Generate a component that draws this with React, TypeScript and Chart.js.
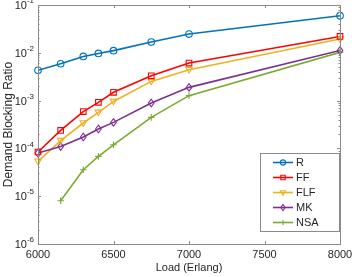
import React, { useEffect, useRef } from "react";
import { Chart, registerables } from "chart.js";

Chart.register(...registerables);

const loads = [6000, 6150, 6300, 6400, 6500, 6750, 7000, 8000];
const nsaLoads = [6150, 6300, 6400, 6500, 6750, 7000, 8000];
const seriesR = [4.3e-3, 5.9e-3, 8.4e-3, 9.7e-3, 1.11e-2, 1.68e-2, 2.47e-2, 5.97e-2];
const seriesFF = [8.4e-5, 2.38e-4, 5.9e-4, 9.2e-4, 1.49e-3, 3.3e-3, 6.1e-3, 2.2e-2];
const seriesFLF = [5.35e-5, 1.45e-4, 3.4e-4, 5.66e-4, 9.6e-4, 2.52e-3, 4.43e-3, 1.94e-2];
const seriesMK = [8.0e-5, 1.1e-4, 1.73e-4, 2.55e-4, 3.5e-4, 8.9e-4, 1.89e-3, 1.12e-2];
const seriesNSA = [8.05e-6, 3.58e-5, 6.8e-5, 1.19e-4, 4.45e-4, 1.27e-3, 1.02e-2];
const xTicks = [6000, 6500, 7000, 7500, 8000];
const yExponents = [-6, -5, -4, -3, -2, -1];
const xTitle = "Load (Erlang)";
const yTitle = "Demand Blocking Ratio";

const FONT = "'Liberation Sans', Arial, Helvetica, sans-serif";
const TEXT = "#262626";
const AXIS = "#8a8a8a";

const toXY = (xs: number[], ys: number[]) => xs.map((x, i) => ({ x, y: ys[i] }));

const drawMarker = (ctx: CanvasRenderingContext2D, style: string, x: number, y: number, r: number, color: string) => {
  ctx.save();
  ctx.strokeStyle = color;
  ctx.lineWidth = 1.1;
  ctx.beginPath();
  if (style === "circle") {
    ctx.arc(x, y, r, 0, Math.PI * 2);
  } else if (style === "rect") {
    ctx.rect(x - r * 0.85, y - r * 0.85, r * 1.7, r * 1.7);
  } else if (style === "triangleDown") {
    ctx.moveTo(x - r, y - r * 0.7);
    ctx.lineTo(x + r, y - r * 0.7);
    ctx.lineTo(x, y + r);
    ctx.closePath();
  } else if (style === "diamond") {
    ctx.moveTo(x, y - r * 1.15);
    ctx.lineTo(x + r * 0.85, y);
    ctx.lineTo(x, y + r * 1.15);
    ctx.lineTo(x - r * 0.85, y);
    ctx.closePath();
  } else {
    ctx.moveTo(x - r, y);
    ctx.lineTo(x + r, y);
    ctx.moveTo(x, y - r);
    ctx.lineTo(x, y + r);
  }
  ctx.stroke();
  ctx.restore();
};

const frame = {
  id: "frame",
  afterDraw(chart: any) {
    const ctx: CanvasRenderingContext2D = chart.ctx;
    const { left, right, top, bottom } = chart.chartArea;
    const xs = chart.scales.x;
    const ys = chart.scales.y;
    ctx.save();
    ctx.strokeStyle = AXIS;
    ctx.lineWidth = 1;
    ctx.strokeRect(left + 0.5, top + 0.5, right - left, bottom - top);
    ctx.beginPath();
    for (const t of xTicks) {
      const px = Math.round(xs.getPixelForValue(t)) + 0.5;
      ctx.moveTo(px, bottom);
      ctx.lineTo(px, bottom - 3);
      ctx.moveTo(px, top);
      ctx.lineTo(px, top + 3);
    }
    for (const e of yExponents) {
      const py = Math.round(ys.getPixelForValue(Math.pow(10, e))) + 0.5;
      ctx.moveTo(left, py);
      ctx.lineTo(left + 3, py);
      ctx.moveTo(right, py);
      ctx.lineTo(right - 3, py);
      if (e < -1) {
        for (let m = 2; m <= 9; m++) {
          const my = Math.round(ys.getPixelForValue(m * Math.pow(10, e))) + 0.5;
          ctx.moveTo(left, my);
          ctx.lineTo(left + 1.5, my);
          ctx.moveTo(right, my);
          ctx.lineTo(right - 1.5, my);
        }
      }
    }
    ctx.stroke();

    // tick labels
    ctx.fillStyle = TEXT;
    ctx.font = `11px ${FONT}`;
    ctx.textAlign = "center";
    ctx.textBaseline = "middle";
    for (const t of xTicks) {
      ctx.fillText(String(t), xs.getPixelForValue(t), bottom + 10.5);
    }
    for (const e of yExponents) {
      const py = ys.getPixelForValue(Math.pow(10, e));
      const expStr = "-" + String(-e);
      ctx.font = `8px ${FONT}`;
      const ew = ctx.measureText(expStr).width;
      const endX = left - 4;
      ctx.textAlign = "left";
      ctx.fillText(expStr, endX - ew, py - 4);
      ctx.font = `11px ${FONT}`;
      ctx.textAlign = "right";
      ctx.fillText("10", endX - ew, py + 1);
    }

    // axis titles
    ctx.font = `11px ${FONT}`;
    ctx.textAlign = "center";
    ctx.fillText(xTitle, (left + right) / 2, 268);
    ctx.save();
    ctx.translate(9, (top + bottom) / 2);
    ctx.rotate(-Math.PI / 2);
    ctx.font = `12px ${FONT}`;
    ctx.fillText(yTitle, 0, 0);
    ctx.restore();

    // legend
    const bx = 260, by = 153, bw = 79, bh = 78;
    ctx.fillStyle = "#ffffff";
    ctx.fillRect(bx, by, bw, bh);
    ctx.strokeStyle = AXIS;
    ctx.strokeRect(bx + 0.5, by + 0.5, bw, bh);
    chart.data.datasets.forEach((ds: any, i: number) => {
      const ly = by + 9.5 + i * 15;
      ctx.strokeStyle = ds.borderColor;
      ctx.lineWidth = 1.6;
      ctx.beginPath();
      ctx.moveTo(273, ly);
      ctx.lineTo(293, ly);
      ctx.stroke();
      drawMarker(ctx, ds.markerKind, 283, ly, 2.6, ds.borderColor);
      ctx.fillStyle = TEXT;
      ctx.font = `11px ${FONT}`;
      ctx.textAlign = "left";
      ctx.textBaseline = "middle";
      ctx.fillText(ds.label, 296, ly + 0.5);
    });
    ctx.restore();
  },
};

const markerPlugin = {
  id: "markers",
  afterDatasetsDraw(chart: any) {
    const ctx: CanvasRenderingContext2D = chart.ctx;
    const n = chart.data.datasets.length;
    for (let i = n - 1; i >= 0; i--) {
      const ds = chart.data.datasets[i];
      const meta = chart.getDatasetMeta(i);
      meta.data.forEach((pt: any) => {
        drawMarker(ctx, ds.markerKind, pt.x, pt.y, 3.3, ds.borderColor);
      });
    }
  },
};

export default function App() {
  const ref = useRef<HTMLCanvasElement>(null);
  useEffect(() => {
    if (!ref.current) return;
    const mk = (label: string, xs: number[], ys: number[], color: string, kind: string, order: number) => ({
      label,
      data: toXY(xs, ys),
      borderColor: color,
      backgroundColor: color,
      borderWidth: 1.6,
      pointRadius: 0,
      markerKind: kind,
      order,
      tension: 0,
    });
    const chart = new Chart(ref.current, {
      type: "line",
      data: {
        datasets: [
          mk("R", loads, seriesR, "#0072BD", "circle", 5),
          mk("FF", loads, seriesFF, "#FF0000", "rect", 4),
          mk("FLF", loads, seriesFLF, "#EDB120", "triangleDown", 3),
          mk("MK", loads, seriesMK, "#7E2F8E", "diamond", 2),
          mk("NSA", nsaLoads, seriesNSA, "#77AC30", "plus", 1),
        ] as any,
      },
      options: {
        animation: false,
        responsive: false,
        devicePixelRatio: 1,
        layout: { padding: { top: 5, right: 12, left: 0, bottom: 0 } },
        plugins: { legend: { display: false }, tooltip: { enabled: false } },
        scales: {
          x: {
            type: "linear",
            min: 6000,
            max: 8000,
            grid: { display: false },
            border: { display: false },
            ticks: { display: false },
            afterFit: (s: any) => { s.height = 33; },
          },
          y: {
            type: "logarithmic",
            min: 1e-6,
            max: 1e-1,
            grid: { display: false },
            border: { display: false },
            ticks: { display: false },
            afterFit: (s: any) => { s.width = 38; },
          },
        },
      } as any,
      plugins: [frame, markerPlugin],
    });
    return () => chart.destroy();
  }, []);
  return (
    <div style={{ position: "absolute", left: 0, top: 0, width: 352, height: 277, background: "#fff" }}>
      <canvas ref={ref} width={352} height={277} />
    </div>
  );
}
